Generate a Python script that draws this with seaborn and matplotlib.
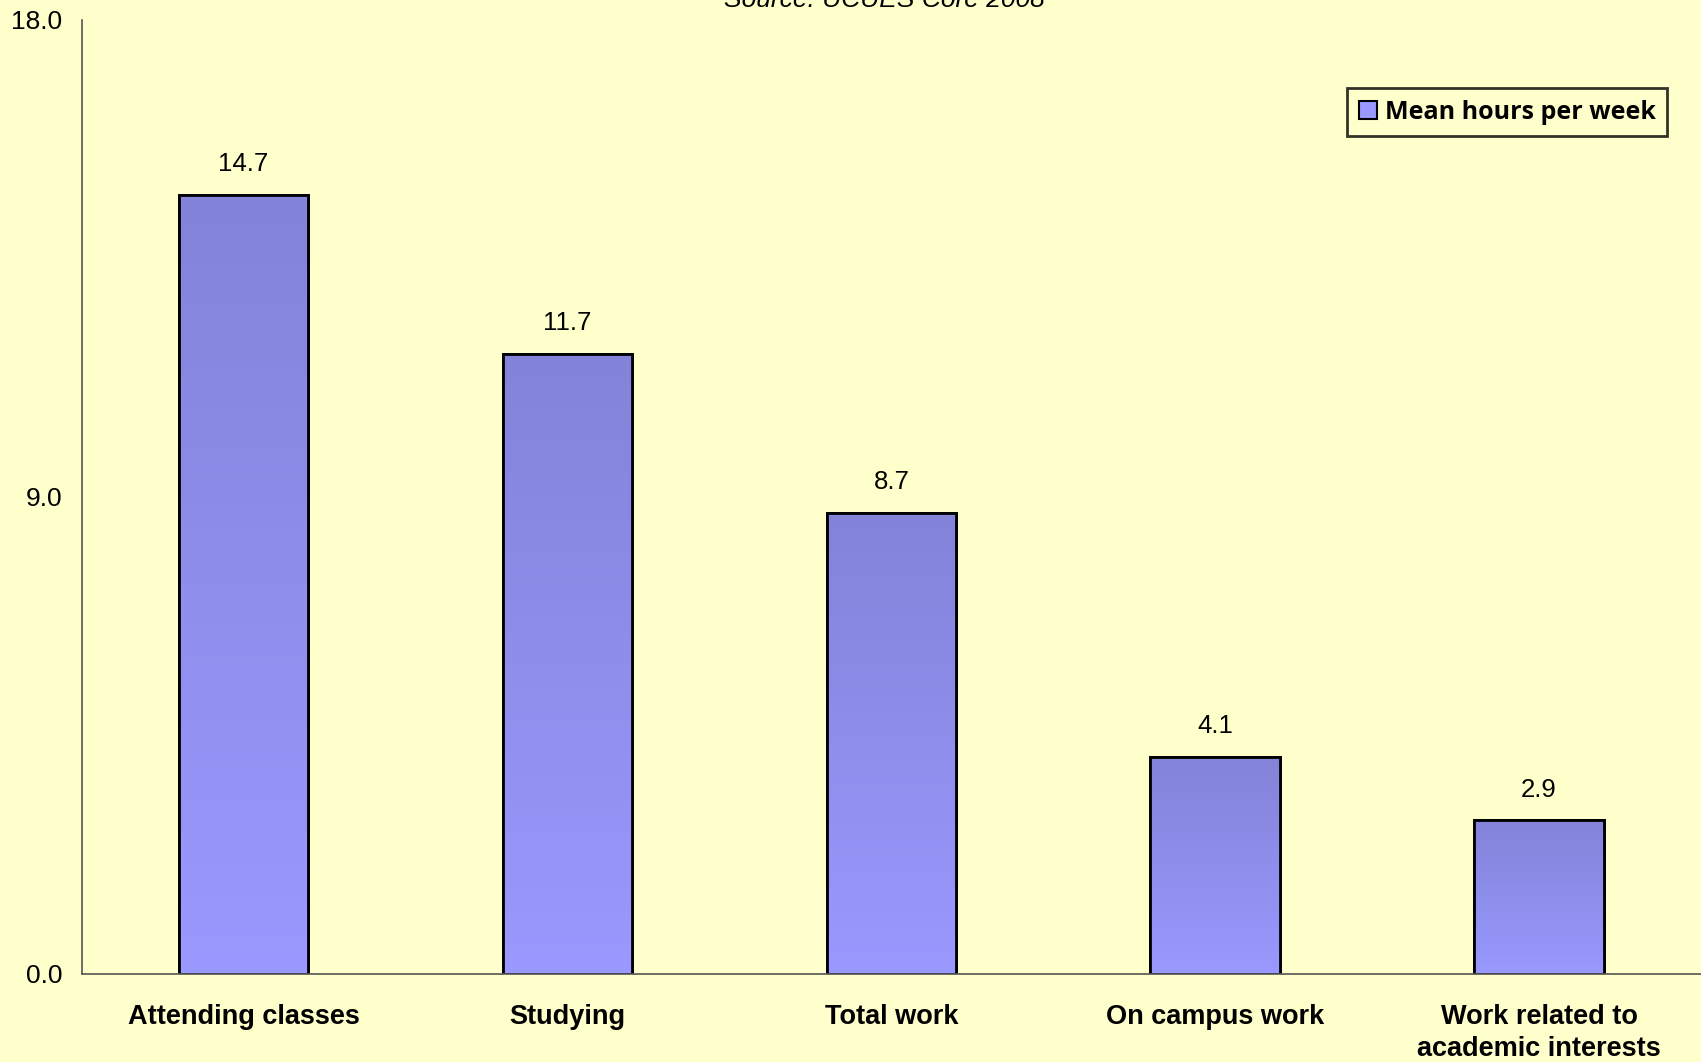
import numpy as np
import pandas as pd
import seaborn as sns
import matplotlib.pyplot as plt
import matplotlib.ticker as ticker
from matplotlib.colors import LinearSegmentedColormap

categories = ['Attending classes', 'Studying', 'Total work', 'On campus work',
              'Work related to\nacademic interests']
hours = [14.7, 11.7, 8.7, 4.1, 2.9]
value_labels = ['14.7', '11.7', '8.7', '4.1', '2.9']
yticks = [0.0, 9.0, 18.0]

bg = '#FFFFCC'
sns.set_theme(style='white')
plt.rcParams['font.family'] = ['Liberation Sans', 'DejaVu Sans']
plt.rcParams['text.color'] = 'black'
plt.rcParams['xtick.color'] = 'black'
plt.rcParams['ytick.color'] = 'black'

data = pd.DataFrame({'activity': categories, 'hours': hours})

fig = plt.figure(figsize=(17.01, 10.62), dpi=100, facecolor=bg)
ax = fig.add_axes([0.048, 0.083, 0.952, 0.8985])
ax.set_facecolor(bg)

sns.barplot(data=data, x='activity', y='hours', color='#9999FF', width=0.4,
            edgecolor='black', linewidth=2, ax=ax)

# vertical gradient inside each bar, darker at the top
cmap = LinearSegmentedColormap.from_list('bar', ['#9999FF', '#8383D9'])
grad = np.linspace(0, 1, 256).reshape(-1, 1)
for p in list(ax.patches):
    x0, y0 = p.get_x(), p.get_y()
    w, h = p.get_width(), p.get_height()
    im = ax.imshow(grad, cmap=cmap, aspect='auto', origin='lower',
                   extent=[x0, x0 + w, y0, y0 + h], zorder=p.get_zorder() + 0.1)
    im.set_clip_path(p)
    ax.add_patch(plt.Rectangle((x0, y0), w, h, fill=False, edgecolor='black',
                               linewidth=2, zorder=p.get_zorder() + 0.2))

for i, (v, lab) in enumerate(zip(hours, value_labels)):
    ax.text(i, v + 0.35, lab, ha='center', va='bottom', fontsize=18.5, color='black')

ax.set_xlim(-0.5, 4.5)
ax.set_ylim(0, 18)
ax.set_yticks(yticks)
ax.yaxis.set_major_formatter(ticker.FormatStrFormatter('%.1f'))
ax.set_xticks(range(len(categories)))
ax.set_xticklabels(categories, fontsize=19.5, fontweight='bold', linespacing=1.3)
ax.set_xticks([0.5, 1.5, 2.5, 3.5], minor=True)
ax.tick_params(axis='x', which='major', length=0, pad=22, labelcolor='black')
ax.tick_params(axis='x', which='minor', length=8, width=1, color='#555555', direction='out')
ax.tick_params(axis='y', length=8, width=1, color='#555555', direction='out',
               labelsize=19, pad=6, labelcolor='black')
ax.set_xlabel('')
ax.set_ylabel('')
for s in ['top', 'right']:
    ax.spines[s].set_visible(False)
for s in ['left', 'bottom']:
    ax.spines[s].set_color('#555555')
    ax.spines[s].set_linewidth(1.2)

leg_handle = plt.Rectangle((0, 0), 1, 1, facecolor='#9999FF', edgecolor='black', linewidth=1.5)
leg = ax.legend([leg_handle], ['Mean hours per week'], loc='upper right',
                bbox_to_anchor=(0.979, 0.928), frameon=True, fancybox=False,
                prop={'family': ['Open Sans', 'DejaVu Sans'], 'weight': 'bold', 'size': 18},
                handlelength=0.75, handleheight=0.75, handletextpad=0.3,
                borderpad=0.45, borderaxespad=0)
leg.get_frame().set_edgecolor('black')
leg.get_frame().set_linewidth(2)
leg.get_frame().set_facecolor(bg)

fig.text(0.52, 1.0, 'Source: UCUES Core 2008', ha='center', va='center',
         fontsize=19, style='italic', color='black')

fig.savefig('out.png', dpi=100, facecolor=bg)
